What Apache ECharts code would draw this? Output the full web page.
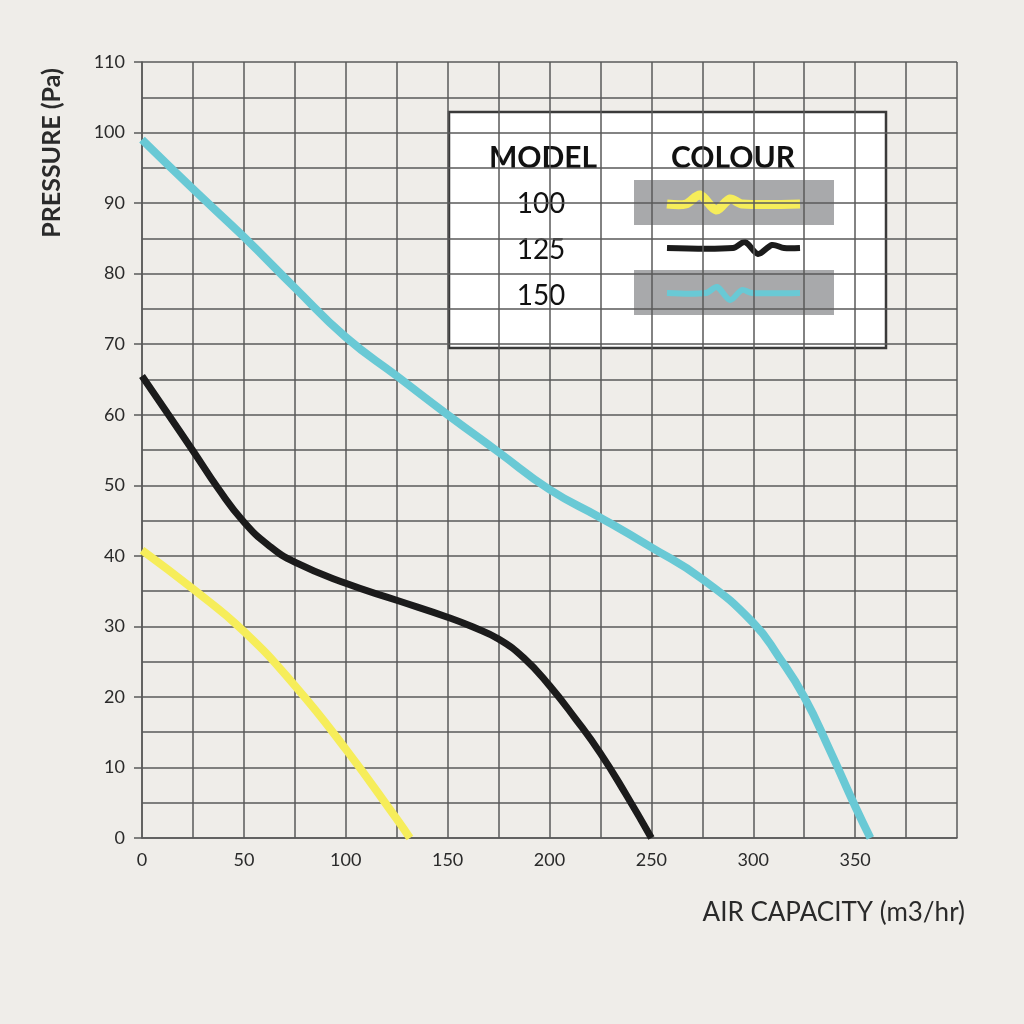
<!DOCTYPE html>
<html>
<head>
<meta charset="utf-8">
<script src="https://cdn.jsdelivr.net/npm/echarts@6/dist/echarts.min.js"></script>
<style>
html,body{margin:0;padding:0;background:#efede9;}
#c{width:1024px;height:1024px;}
</style>
</head>
<body>
<div id="c"></div>
<script>
// Data
const model100 = [[0,40.8],[25,35.3],[50,29.3],[75,21.6],[100,12.6],[125,2.7],[131.5,0]];
const model125 = [[0,65.5],[12.5,60.2],[25,54.9],[37.5,49.5],[50,44.8],[62.5,41.4],[75,39.1],[100,36.1],[125,33.7],[150,31.3],[162.5,29.9],[175,28.2],[187.5,25.5],[200,21.6],[212.5,17],[225,12],[237.5,6.2],[250,0]];
const model150 = [[0,99],[25,92],[50,85.2],[75,78],[100,71],[125,65.5],[150,60],[175,54.7],[200,49.4],[225,45.4],[250,41.2],[275,36.7],[300,30.5],[312.5,25.7],[325,20],[337.5,12.5],[350,4.5],[357.5,0]];
const modelNames = ['100','125','150'];
const xTitle = 'AIR CAPACITY (m3/hr)';
const yTitle = 'PRESSURE (Pa)';

const FONT = 'Lato, "Noto Sans", sans-serif';
const gridColor = '#5a5a5a';
const colors = ['#f6ed5a','#1b1b1b','#69c9d5'];

const chart = echarts.init(document.getElementById('c'));

function wiggle(x0, x1, y, pts){
  return [[x0,y]].concat(pts).concat([[x1,y]]);
}

chart.setOption({
  backgroundColor:'#efede9',
  animation:false,
  grid:{left:142,right:67,top:62,bottom:186,containLabel:false},
  xAxis:{
    type:'value',min:0,max:400,interval:50,
    axisLine:{show:true,lineStyle:{color:gridColor,width:1.5}},
    axisTick:{show:false},
    minorTick:{show:false,splitNumber:2},
    minorSplitLine:{show:true,lineStyle:{color:gridColor,width:1.5}},
    splitLine:{show:true,lineStyle:{color:gridColor,width:1.5}},
    axisLabel:{fontFamily:FONT,fontSize:18,color:'#2a2a2a',margin:13,
      formatter:v=> v>=400 ? '' : String(v)}
  },
  yAxis:{
    type:'value',min:0,max:110,interval:10,
    axisLine:{show:true,lineStyle:{color:gridColor,width:1.5}},
    axisTick:{show:true,length:8,lineStyle:{color:gridColor,width:1.5}},
    minorTick:{show:false,splitNumber:2},
    minorSplitLine:{show:true,lineStyle:{color:gridColor,width:1.5}},
    splitLine:{show:true,lineStyle:{color:gridColor,width:1.5}},
    axisLabel:{fontFamily:FONT,fontSize:18,color:'#2a2a2a',margin:17}
  },
  series:[
    {name:modelNames[0],type:'line',data:model100,smooth:0.5,showSymbol:false,
      lineStyle:{color:colors[0],width:8,cap:'butt'},z:3},
    {name:modelNames[1],type:'line',data:model125,smooth:0.5,showSymbol:false,
      lineStyle:{color:colors[1],width:7,cap:'butt'},z:3},
    {name:modelNames[2],type:'line',data:model150,smooth:0.5,showSymbol:false,
      lineStyle:{color:colors[2],width:8,cap:'butt'},z:3}
  ],
  graphic:[
    {type:'text',x:52,y:153,rotation:Math.PI/2,
      style:{text:yTitle,fontFamily:FONT,fontSize:25,fontWeight:'bold',fill:'#2a2a2a',align:'center',verticalAlign:'middle'}},
    {type:'text',x:965,y:913,
      style:{text:xTitle,fontFamily:FONT,fontSize:26,fill:'#2a2a2a',align:'right',verticalAlign:'middle'}},
    {type:'group',z:10,children:[
      {type:'rect',shape:{x:449,y:112,width:437,height:236},style:{fill:'#ffffff',stroke:'#3a3a3a',lineWidth:2.5}},
      {type:'text',x:543,y:158,style:{text:'MODEL',fontFamily:FONT,fontSize:30,fontWeight:'bold',fill:'#111',align:'center',verticalAlign:'middle'}},
      {type:'text',x:733,y:158,style:{text:'COLOUR',fontFamily:FONT,fontSize:30,fontWeight:'bold',fill:'#111',align:'center',verticalAlign:'middle'}},
      {type:'text',x:541,y:204,style:{text:modelNames[0],fontFamily:FONT,fontSize:28,fill:'#111',align:'center',verticalAlign:'middle'}},
      {type:'text',x:541,y:250,style:{text:modelNames[1],fontFamily:FONT,fontSize:28,fill:'#111',align:'center',verticalAlign:'middle'}},
      {type:'text',x:541,y:296,style:{text:modelNames[2],fontFamily:FONT,fontSize:28,fill:'#111',align:'center',verticalAlign:'middle'}},
      {type:'rect',shape:{x:634,y:180,width:200,height:45},style:{fill:'#a8a9ab'}},
      {type:'rect',shape:{x:634,y:270,width:200,height:45},style:{fill:'#a8a9ab'}},
      {type:'polyline',shape:{smooth:0.3,points:wiggle(667,800,204,[[686,204],[700,195],[716,210],[730,199],[742,204]])},
        style:{stroke:colors[0],lineWidth:9,fill:null}},
      {type:'polyline',shape:{smooth:0.3,points:wiggle(667,800,248,[[733,248],[745,242],[758,254],[772,245],[784,248]])},
        style:{stroke:colors[1],lineWidth:6,fill:null}},
      {type:'polyline',shape:{smooth:0.3,points:wiggle(667,800,293,[[706,293],[717,287],[730,300],[742,290],[752,293]])},
        style:{stroke:colors[2],lineWidth:6,fill:null}}
    ]}
  ]
});
</script>
</body>
</html>
